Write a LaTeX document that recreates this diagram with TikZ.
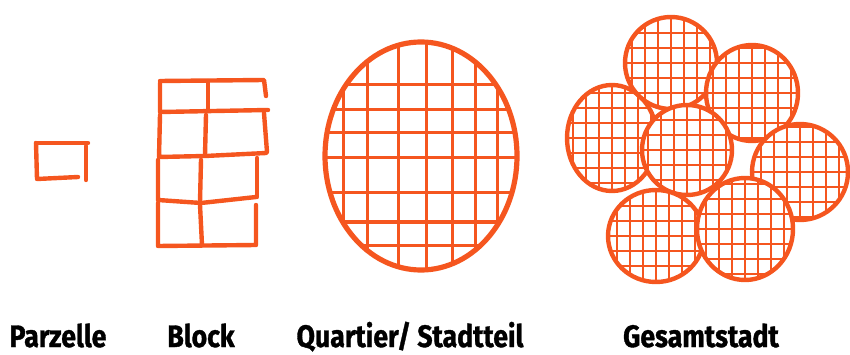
\documentclass[tikz,border=0pt]{standalone}
\usepackage{fontspec}
\setmainfont{Fira Sans}
\newfontfamily\capfont{Fira Sans}[BoldFeatures={FakeBold=1.2}]
\usepackage{tikz}
\definecolor{stadtorange}{HTML}{F5561F}

\begin{document}
\begin{tikzpicture}[
      x=1pt,y=-1pt,
      line cap=round,line join=round,
      outline/.style={draw=stadtorange,line width=4.4pt},
      thick outline/.style={draw=stadtorange,line width=5.2pt},
      gridline/.style={draw=stadtorange,line width=3pt},
      fine gridline/.style={draw=stadtorange,line width=2.6pt},
      caption/.style={anchor=base,inner sep=0pt,font=\capfont\fontsize{31}{31}\selectfont\bfseries}
    ]
      \useasboundingbox (0,0) rectangle (850,355);

      % Parzelle
      \draw[outline] (36,143) -- (88,143);
      \draw[outline] (36,143) -- (37,179) -- (78,177);
      \draw[outline] (86,146) -- (86,180);

      % Block
      \draw[outline] (160,81) -- (264,80) -- (266,96);
      \draw[outline] (160,83) -- (160,112) -- (268,110);
      \draw[outline] (208,81) -- (208,111);
      \draw[outline] (160,115) -- (159,157) -- (205,156) -- (266,153);
      \draw[outline] (206,115) -- (205,155);
      \draw[outline] (264,113) -- (267,152);
      \draw[outline] (158,160) -- (158,200) -- (201,203) -- (256,197);
      \draw[outline] (201,160) -- (200,202);
      \draw[outline] (257,158) -- (257,197);
      \draw[outline] (158,203) -- (158,246) -- (256,245) -- (256,205);
      \draw[outline] (200,205) -- (202,245);

      % Quartier / Stadtteil
      \begin{scope}
        \clip (421,156) ellipse [x radius=94,y radius=112];
        \foreach \gx in {343,367,398,426,452,475,497}
          \draw[gridline] (\gx,30) -- (\gx,280);
        \foreach \gy in {85,110,133,158,193,222,245}
          \draw[gridline] (315,\gy) -- (525,\gy);
      \end{scope}
      \draw[thick outline] (421,156) ellipse [x radius=96,y radius=114];

      % Gesamtstadt
      \foreach \cx/\cy/\rx/\ry in {612/138/45/53,671/63/46/46,752/93/46/48,
                                  800/172/48/48,687/150/45/45,656/236/48/46,745/229/48/51}{
        \fill[white] (\cx,\cy) ellipse [x radius=\rx,y radius=\ry];
        \begin{scope}
          \clip (\cx,\cy) ellipse [x radius=\rx,y radius=\ry];
          \foreach \d in {-39,-26,-13,0,13,26,39}
            \draw[fine gridline] ([xshift=\d pt]\cx,\cy-60) -- ([xshift=\d pt]\cx,\cy+60);
          \foreach \d in {-45,-30,-15,0,15,30,45}
            \draw[fine gridline] ([yshift=\d pt]\cx-60,\cy) -- ([yshift=\d pt]\cx+60,\cy);
        \end{scope}
        \draw[outline] (\cx,\cy) ellipse [x radius=\rx,y radius=\ry];
      }

      % labels
      \node[caption] (parzelle) at (58,347) {\scalebox{0.86}[1]{Parzelle}};
      \node[caption] (block) at (201,347) {\scalebox{0.86}[1]{Block}};
      \node[caption] (quartier) at (410,347) {\scalebox{0.86}[1]{Quartier/ Stadtteil}};
      \node[caption] (gesamtstadt) at (701,347) {\scalebox{0.86}[1]{Gesamtstadt}};
    \end{tikzpicture}
\end{document}
